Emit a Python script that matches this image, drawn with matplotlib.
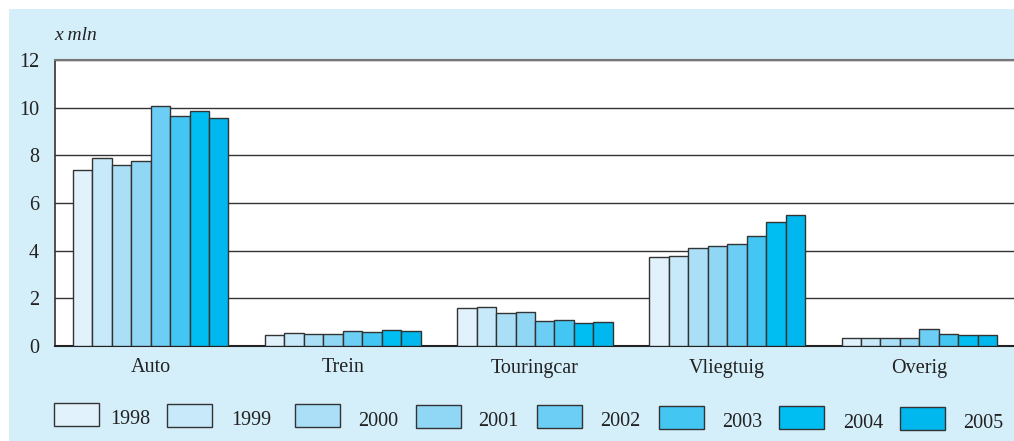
import numpy as np
import matplotlib
matplotlib.use('Agg')
import matplotlib.pyplot as plt
from matplotlib.patches import Rectangle

W, H = 1014, 441

CATEGORIES = ['Auto', 'Trein', 'Touringcar', 'Vliegtuig', 'Overig']
YEARS = ['1998', '1999', '2000', '2001', '2002', '2003', '2004', '2005']

V_1998 = [7.38, 0.46, 1.61, 3.75, 0.35]
V_1999 = [7.88, 0.53, 1.65, 3.79, 0.32]
V_2000 = [7.58, 0.49, 1.37, 4.10, 0.34]
V_2001 = [7.77, 0.49, 1.41, 4.19, 0.35]
V_2002 = [10.09, 0.64, 1.03, 4.30, 0.71]
V_2003 = [9.64, 0.57, 1.09, 4.63, 0.50]
V_2004 = [9.87, 0.66, 0.95, 5.21, 0.45]
V_2005 = [9.55, 0.61, 0.99, 5.48, 0.45]

SERIES = [V_1998, V_1999, V_2000, V_2001, V_2002, V_2003, V_2004, V_2005]

COLORS = ['#e1f2fc', '#c8e9f9', '#abdff8', '#90d7f5',
          '#6ccef4', '#44c6f3', '#00bef2', '#00b8ee']

PANEL = '#d4eefa'
EDGE = '#333333'
TXT = '#222222'

plt.rcParams['font.family'] = ['Liberation Serif', 'DejaVu Serif']

fig = plt.figure(figsize=(W / 100, H / 100), dpi=100)

# light blue background panel
fig.patches.append(Rectangle((9 / W, 0), 1 - 9 / W, 1 - 9 / H,
                             transform=fig.transFigure, facecolor=PANEL,
                             edgecolor='none', zorder=-10))

# axes: x from 54 to 1015 px, y from 60 to 346 px
ax = fig.add_axes([54.5 / W, 1 - 346 / H, 961 / W, 286 / H])
ax.set_facecolor('white')

x = np.arange(len(CATEGORIES))
group = 0.81
bw = group / len(SERIES)
for i, vals in enumerate(SERIES):
    offs = -group / 2 + bw * (i + 0.5)
    ax.bar(x + offs, vals, width=bw, color=COLORS[i], edgecolor=EDGE,
           linewidth=1.0, zorder=3)

ax.set_xlim(-0.5, len(CATEGORIES) - 0.5)
ax.set_ylim(0, 12)
ax.set_yticks(range(0, 13, 2))
ax.yaxis.grid(True, color=EDGE, linewidth=1.0, zorder=0)
ax.set_axisbelow(True)

ax.set_xticks(x)
ax.set_xticklabels(CATEGORIES, fontsize=14.5, color=TXT)
ax.tick_params(axis='x', length=0, pad=9)
ax.tick_params(axis='y', length=0, pad=11, labelsize=14.5, labelcolor=TXT)

ax.spines['right'].set_visible(False)
ax.spines['top'].set_color('#777777')
ax.spines['top'].set_linewidth(1.5)
ax.spines['left'].set_color('#333333')
ax.spines['left'].set_linewidth(1.2)
ax.spines['bottom'].set_color('#222222')
ax.spines['bottom'].set_linewidth(1.5)

fig.text(54 / W, 1 - 35 / H, 'x mln', fontsize=14, style='italic',
         color=TXT, va='center', ha='left')

# legend drawn by hand to keep the uneven spacing
patch_x = [54, 167, 295, 416, 537, 659, 779, 900]
label_x = [110, 231, 358, 478, 600, 722, 843, 963]
for i, yr in enumerate(YEARS):
    y0 = 403 + i * 0.5
    fig.patches.append(Rectangle((patch_x[i] / W, 1 - (y0 + 23) / H),
                                 45 / W, 23 / H, transform=fig.transFigure,
                                 facecolor=COLORS[i], edgecolor=EDGE,
                                 linewidth=1.0))
    fig.text(label_x[i] / W, 1 - (y0 + 17) / H, yr, fontsize=14.5,
             color=TXT, va='center', ha='left')

fig.savefig('out.png', dpi=100, facecolor='white')
